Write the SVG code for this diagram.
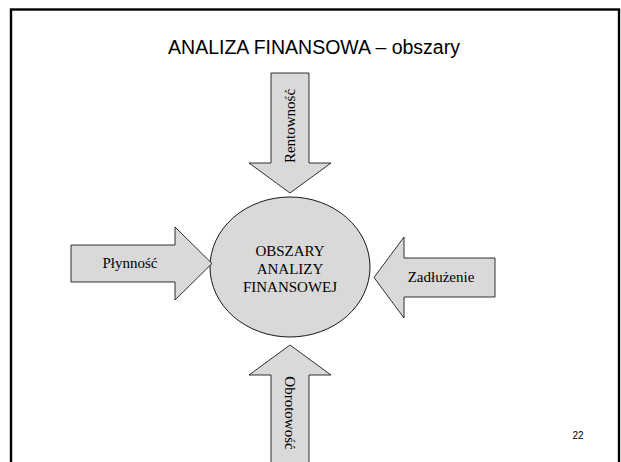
<svg xmlns="http://www.w3.org/2000/svg" width="621" height="462" viewBox="0 0 621 462">
  <style>
    .arrow { fill: #d9d9d9; stroke: #000; stroke-width: 0.8; }
    .hub { fill: #d9d9d9; stroke: #000; stroke-width: 0.9; }
    .lbl { font-family: "Liberation Serif", "Times New Roman", serif; font-size: 15px; fill: #000; text-anchor: middle; }
    .sans { font-family: "Liberation Sans", Arial, sans-serif; fill: #000; text-anchor: middle; }
  </style>
  <rect width="621" height="462" fill="#fff"/>
  <!-- slide frame, open at the bottom edge -->
  <rect x="11" y="9.5" width="608" height="470" fill="none" stroke="#000" stroke-width="2.4"/>
  <text class="sans" x="314" y="54" font-size="19.5">ANALIZA FINANSOWA – obszary</text>

  <g id="hub">
    <ellipse class="hub" cx="290" cy="267" rx="80" ry="70"/>
    <text class="lbl" x="290" y="256">OBSZARY</text>
    <text class="lbl" x="290" y="274">ANALIZY</text>
    <text class="lbl" x="290" y="292">FINANSOWEJ</text>
  </g>

  <g id="connectors">
    <g id="rentownosc">
      <polygon class="arrow" points="271,73 309,73 309,163 331,163 290,193 249,163 271,163"/>
      <text class="lbl" transform="translate(295,126) rotate(-90)">Rentowność</text>
    </g>
    <g id="plynnosc">
      <polygon class="arrow" points="71,245 175,245 175,227 212,263.5 175,300 175,282 71,282"/>
      <text class="lbl" x="130" y="268">Płynność</text>
    </g>
    <g id="zadluzenie">
      <polygon class="arrow" points="495,258 404,258 404,237 374,277.5 404,318 404,297 495,297"/>
      <text class="lbl" x="441" y="282">Zadłużenie</text>
    </g>
    <g id="obrotowosc">
      <polygon class="arrow" points="290,345 331,375 309,375 309,470 271,470 271,375 249,375"/>
      <text class="lbl" transform="translate(285,413) rotate(90)">Obrotowość</text>
    </g>
  </g>

  <text class="sans" x="578" y="439" font-size="10">22</text>
</svg>
